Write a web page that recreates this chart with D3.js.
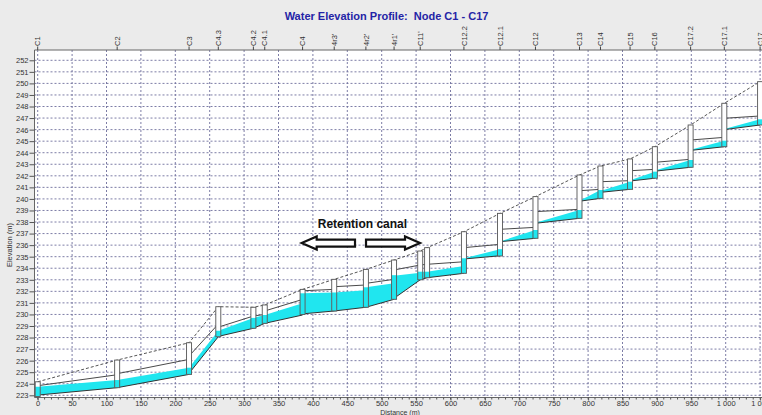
<!DOCTYPE html>
<html>
<head>
<meta charset="utf-8">
<script src="https://cdn.jsdelivr.net/npm/d3@7"></script>
<style>
  body { margin: 0; background: #ebebeb; }
  svg { display: block; font-family: "Liberation Sans", Arial, sans-serif; }
</style>
</head>
<body>
<svg id="chart" width="762" height="415"></svg>
<script>
// nodes (manholes), left to right
var nodeNames  = ["C1", "C2", "C3", "C4.3", "C4.2", "C4.1", "C4", "4r3'", "4r2'", "4r1'", "C11'", "",
                  "C12.2", "C12.1", "C12", "C13", "C14", "C15", "C16", "C17.2", "C17.1", "C17"];
var nodeDist   = [0, 115.5, 220, 262.5, 313.5, 330, 385, 431, 477, 518, 556, 566,
                  619.5, 672, 723.5, 787.5, 818, 861, 897, 949, 998, 1050];
var nodeInvert = [222.9, 223.66, 224.81, 228.07, 228.8, 229.23, 230.0, 230.3, 230.62, 231.31, 233.0, 233.18,
                  233.56, 235.06, 236.59, 238.32, 240.05, 240.83, 241.79, 242.74, 244.52, 246.4];
var nodeRim    = [224.17, 226.05, 227.55, 230.67, 230.62, 230.82, 232.17, 233.04, 233.9, 234.71, 235.49, 235.78,
                  237.16, 238.75, 240.2, 242.07, 242.85, 243.46, 244.52, 246.4, 248.28, 250.15];
var nodeWater  = [223.74, 224.32, 225.39, 228.59, 229.7, 229.95, 231.83, 231.9, 232.35, 233.4, 233.7, 233.7,
                  234.86, 235.65, 237.31, 239.04, 240.77, 241.49, 242.36, 243.37, 245.04, 246.89];

// conduits between node i and node i+1 (L = left end, R = right end)
var linkBotL = [223.02, 223.66, 224.9, 228.1, 228.8, 229.23, 230.05, 230.3, 230.62, 231.4, 233.0,
                233.18, 234.8, 236.3, 237.89, 239.8, 240.57, 241.55, 242.4, 244.2, 246.0];
var linkBotR = [223.66, 224.81, 228.07, 228.8, 229.23, 229.95, 230.3, 230.62, 231.31, 233.0, 233.18,
                233.56, 235.08, 236.59, 238.32, 240.05, 240.83, 241.79, 242.74, 244.52, 246.4];
var linkTopL = [223.83, 224.87, 226.4, 228.9, 229.86, 230.3, 232.05, 232.4, 232.69, 233.85, 234.28,
                234.34, 235.78, 237.37, 238.9, 240.71, 241.49, 242.44, 243.17, 245.1, 246.98];
var linkTopR = [224.78, 226.11, 229.17, 229.86, 230.0, 231.3, 232.17, 232.55, 233.04, 234.28, 234.34,
                234.56, 236.07, 237.54, 239.1, 240.83, 241.58, 242.56, 243.43, 245.33, 247.18];
var linkWatL = [223.74, 224.32, 225.39, 228.59, 229.7, 229.95, 231.83, 231.9, 232.35, 233.35, 233.7,
                233.7, 234.86, 236.32, 237.94, 239.85, 240.69, 241.62, 242.45, 244.25, 246.05];
var linkWatR = [224.32, 225.39, 228.59, 229.7, 229.95, 230.96, 231.9, 232.1, 232.69, 233.6, 233.7,
                234.19, 235.64, 237.31, 239.04, 240.77, 241.49, 242.36, 243.37, 245.04, 246.89];

// axis ticks
var xTicks = d3.range(0, 1051, 50);
var xMinor = d3.range(0, 1061, 10);
var yTicks = d3.range(223, 253, 1);

var svg = d3.select("#chart");
var plot = { left: 34.5, top: 50, right: 762, bottom: 397.5 };

var x = d3.scaleLinear().domain([0, 1000]).range([37.7, 725.7]);
var y = d3.scaleLinear().domain([223, 252]).range([395.3, 60.3]);

var water = "#20e6ef";

svg.append("rect")
  .attr("width", 762).attr("height", 415).attr("fill", "#ebebeb");

svg.append("text")
  .attr("x", 386.5).attr("y", 20)
  .attr("text-anchor", "middle")
  .attr("font-size", 11).attr("font-weight", "bold")
  .attr("fill", "#2424a6")
  .attr("xml:space", "preserve")
  .text("Water Elevation Profile:  Node C1 - C17");

svg.append("clipPath").attr("id", "clip")
  .append("rect")
  .attr("x", plot.left).attr("y", plot.top)
  .attr("width", plot.right - plot.left).attr("height", plot.bottom - plot.top);

svg.append("rect")
  .attr("x", plot.left).attr("y", plot.top)
  .attr("width", plot.right - plot.left).attr("height", plot.bottom - plot.top)
  .attr("fill", "#fff");

var g = svg.append("g").attr("clip-path", "url(#clip)");

// grid
g.selectAll(".vgrid").data(xTicks).enter().append("line")
  .attr("x1", function (d) { return x(d); }).attr("x2", function (d) { return x(d); })
  .attr("y1", plot.top).attr("y2", plot.bottom)
  .attr("stroke", "#6e6e9c").attr("stroke-width", 0.9).attr("stroke-dasharray", "2,2");

g.selectAll(".hgrid").data(yTicks).enter().append("line")
  .attr("x1", plot.left).attr("x2", plot.right)
  .attr("y1", function (d) { return y(d); }).attr("y2", function (d) { return y(d); })
  .attr("stroke", "#6e6e9c").attr("stroke-width", 0.9).attr("stroke-dasharray", "2,2");

// ground surface
var ground = d3.line()
  .x(function (d, i) { return x(nodeDist[i]); })
  .y(function (d, i) { return y(nodeRim[i]); });

g.append("path")
  .datum(nodeDist)
  .attr("d", ground)
  .attr("fill", "none")
  .attr("stroke", "#555").attr("stroke-width", 1).attr("stroke-dasharray", "3,2");

// conduits
var links = d3.range(nodeDist.length - 1);

g.selectAll(".water").data(links).enter().append("path")
  .attr("d", function (i) {
    var xl = x(nodeDist[i]), xr = x(nodeDist[i + 1]);
    return "M" + xl + "," + y(linkBotL[i]) + "L" + xr + "," + y(linkBotR[i]) +
           "L" + xr + "," + y(linkWatR[i]) + "L" + xl + "," + y(linkWatL[i]) + "Z";
  })
  .attr("fill", water);

g.selectAll(".crown").data(links).enter().append("line")
  .attr("x1", function (i) { return x(nodeDist[i]); })
  .attr("x2", function (i) { return x(nodeDist[i + 1]); })
  .attr("y1", function (i) { return y(linkTopL[i]); })
  .attr("y2", function (i) { return y(linkTopR[i]); })
  .attr("stroke", "#4a4a4a").attr("stroke-width", 1);

g.selectAll(".invert").data(links).enter().append("line")
  .attr("x1", function (i) { return x(nodeDist[i]); })
  .attr("x2", function (i) { return x(nodeDist[i + 1]); })
  .attr("y1", function (i) { return y(linkBotL[i]); })
  .attr("y2", function (i) { return y(linkBotR[i]); })
  .attr("stroke", "#333").attr("stroke-width", 1);

// manholes
var nodes = d3.range(nodeDist.length);
var post = g.selectAll(".post").data(nodes).enter().append("g");

post.append("rect")
  .attr("x", function (i) { return x(nodeDist[i]) - 2.5; })
  .attr("y", function (i) { return y(nodeRim[i]); })
  .attr("width", 5)
  .attr("height", function (i) { return y(nodeInvert[i]) - y(nodeRim[i]); })
  .attr("fill", "#fff");

post.append("rect")
  .attr("x", function (i) { return x(nodeDist[i]) - 2.5; })
  .attr("y", function (i) { return y(nodeWater[i]); })
  .attr("width", 5)
  .attr("height", function (i) { return y(nodeInvert[i]) - y(nodeWater[i]); })
  .attr("fill", water);

post.append("rect")
  .attr("x", function (i) { return x(nodeDist[i]) - 2.5; })
  .attr("y", function (i) { return y(nodeRim[i]); })
  .attr("width", 5)
  .attr("height", function (i) { return y(nodeInvert[i]) - y(nodeRim[i]); })
  .attr("fill", "none")
  .attr("stroke", "#555").attr("stroke-width", 0.9);

// plot frame
svg.append("path")
  .attr("d", "M" + plot.right + "," + plot.top + "H" + plot.left + "V" + plot.bottom + "H" + plot.right)
  .attr("fill", "none").attr("stroke", "#666").attr("stroke-width", 1);

// node labels along the top
var labelG = svg.append("g");
nodes.forEach(function (i) {
  if (!nodeNames[i]) return;
  var px = x(nodeDist[i]);
  labelG.append("line")
    .attr("x1", px).attr("x2", px).attr("y1", plot.top).attr("y2", plot.top - 3.5)
    .attr("stroke", "#444");
  labelG.append("text")
    .attr("transform", "translate(" + px + "," + (plot.top - 4) + ") rotate(-90)")
    .attr("dy", "0.35em")
    .attr("font-size", 7.5).attr("fill", "#333")
    .text(nodeNames[i]);
});

// axes
var fmt = d3.formatLocale({ decimal: ".", thousands: " ", grouping: [3], currency: ["", ""] }).format(",");

var yAxis = svg.append("g")
  .attr("transform", "translate(" + plot.left + ",0)")
  .call(d3.axisLeft(y).tickValues(yTicks).tickSize(5).tickPadding(1).tickFormat(d3.format("d")));
yAxis.select(".domain").remove();
yAxis.selectAll("line").attr("stroke", "#555");
yAxis.selectAll("text").attr("font-size", 7.5).attr("fill", "#333")
  .attr("font-family", "Liberation Sans, Arial, sans-serif");

svg.append("g")
  .attr("transform", "translate(0," + plot.bottom + ")")
  .selectAll("line").data(xMinor).enter().append("line")
  .attr("x1", function (d) { return x(d); }).attr("x2", function (d) { return x(d); })
  .attr("y1", 0).attr("y2", 2)
  .attr("stroke", "#555");

var xAxis = svg.append("g")
  .attr("transform", "translate(0," + plot.bottom + ")")
  .call(d3.axisBottom(x).tickValues(xTicks).tickSize(3).tickPadding(0).tickFormat(fmt));
xAxis.select(".domain").remove();
xAxis.selectAll("line").attr("stroke", "#555");
xAxis.selectAll("text").attr("font-size", 7.5).attr("fill", "#333")
  .attr("font-family", "Liberation Sans, Arial, sans-serif");

svg.append("text")
  .attr("x", 400).attr("y", 414.6)
  .attr("text-anchor", "middle")
  .attr("font-size", 7).attr("fill", "#333")
  .text("Distance (m)");

svg.append("text")
  .attr("transform", "translate(12,245) rotate(-90)")
  .attr("text-anchor", "middle")
  .attr("font-size", 7.5).attr("fill", "#333")
  .text("Elevation (m)");

// annotation
var ann = svg.append("g");
ann.append("text")
  .attr("x", x(472)).attr("y", y(237.48))
  .attr("text-anchor", "middle")
  .attr("font-size", 12).attr("font-weight", "bold").attr("fill", "#111")
  .text("Retention canal");

function blockArrow(tip, tail) {
  var xt = x(tip), xb = x(tail), yc = y(236.18);
  var dir = xb > xt ? 1 : -1;
  var xh = xt + dir * 15;
  return "M" + xt + "," + yc +
         "L" + xh + "," + (yc - 6.5) + "L" + xh + "," + (yc - 3.5) +
         "L" + xb + "," + (yc - 3.5) + "L" + xb + "," + (yc + 3.5) +
         "L" + xh + "," + (yc + 3.5) + "L" + xh + "," + (yc + 6.5) + "Z";
}
ann.append("path").attr("d", blockArrow(383.7, 461.2))
  .attr("fill", "#fff").attr("stroke", "#111").attr("stroke-width", 2.2).attr("stroke-linejoin", "miter");
ann.append("path").attr("d", blockArrow(555.7, 477.2))
  .attr("fill", "#fff").attr("stroke", "#111").attr("stroke-width", 2.2).attr("stroke-linejoin", "miter");
</script>
</body>
</html>
